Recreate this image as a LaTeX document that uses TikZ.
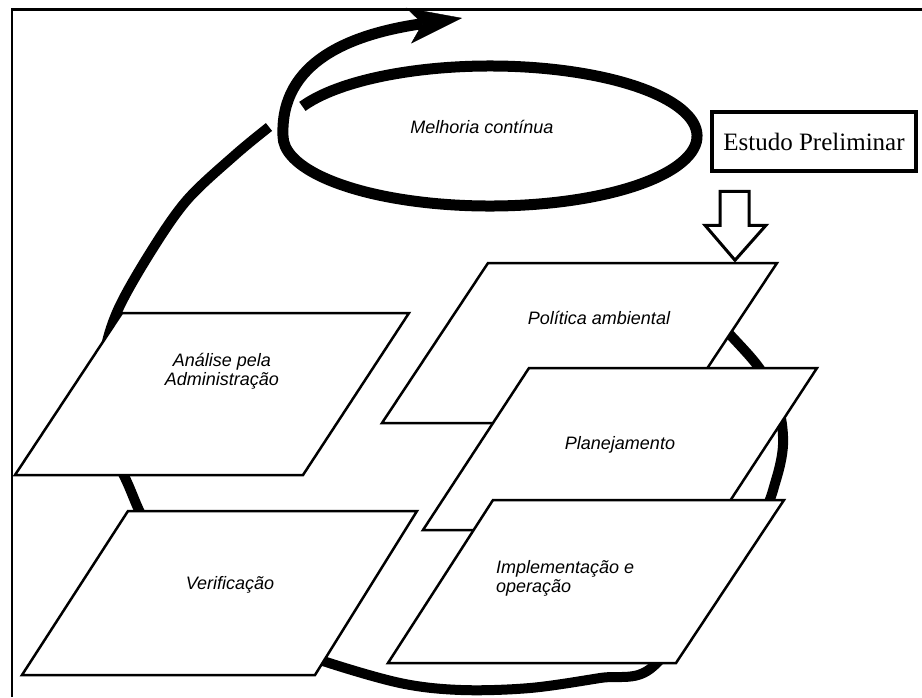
\documentclass[tikz,border=0pt]{standalone}
\usepackage{fontspec}
\setmainfont{Liberation Serif}
\newfontfamily\helv{Liberation Sans}
\usetikzlibrary{arrows.meta}

\tikzset{
  pgram/.style={draw=black,fill=white,line width=2.5pt},
  lbl/.style={font=\helv\itshape\fontsize{18}{19}\selectfont,inner sep=0pt},
}

\begin{document}
\begin{tikzpicture}[x=1pt,y=-1pt]
\useasboundingbox (0,0) rectangle (922,697);
\fill[white] (0,0) rectangle (922,697);
\draw[line width=2.5pt] (12,697) -- (12,9.5) -- (922,9.5);
% big cycle behind the boxes
\draw[line width=10pt] plot[smooth,tension=0.55] coordinates {(269,127) (235,155) (187,200) (150,253) (117,312) (103,362) (101,422) (127,482) (150,530) (205,600) (265,638) (320,660) (400,683) (461,690) (530,688) (600,678) (650,669) (705,600) (760,520) (776,480) (783,445) (779,410) (762,372) (735,340) (705,310)};
% boxes
\draw[pgram] (15,475) -- (303,475) -- (409,313) -- (122,313) -- cycle;
\draw[pgram] (22,675) -- (315,675) -- (417,511) -- (128,511) -- cycle;
\draw[pgram] (382,423) -- (671,423) -- (777,263) -- (488,263) -- cycle;
\draw[pgram] (423,530) -- (711,530) -- (817,368) -- (529,368) -- cycle;
\draw[pgram] (388,663) -- (676,663) -- (784,500) -- (493,500) -- cycle;
% preliminary study
\node[draw,line width=4.5pt,minimum width=204pt,minimum height=59pt,inner sep=0pt,
  font=\fontsize{25}{27}\selectfont] (est) at (814,141.5) {Estudo Preliminar};
\draw[line width=3pt,fill=white] (est.south) ++(-94,18) -- ++(29,0) -- ++(0,34) -- ++(17,0)
  -- ++(-31,35) -- ++(-30,-35) -- ++(15,0) -- cycle;
% continual improvement spiral
\coordinate (mc) at (490,136);
\draw[line width=11pt,-{Stealth[length=54pt,width=36pt,inset=14pt,line width=0.4pt]}]
  (mc) ++(205:207 and 70) arc[start angle=205,end angle=540,x radius=207,y radius=70]
  .. controls (280,62) and (350,34) .. (462,18);
% labels
\node[lbl,anchor=base] (melhoria) at (482,133) {Melhoria contínua};
\node[lbl,align=center] (analise) at (222,371) {Análise pela\\Administração};
\node[lbl,anchor=base] (verif) at (230,589) {Verificação};
\node[lbl,anchor=base] (politica) at (599,324) {Política ambiental};
\node[lbl,anchor=base] (plan) at (620,449) {Planejamento};
\node[lbl,align=left,anchor=north west] (impl) at (496,560) {Implementação e\\operação};
\end{tikzpicture}
\end{document}
